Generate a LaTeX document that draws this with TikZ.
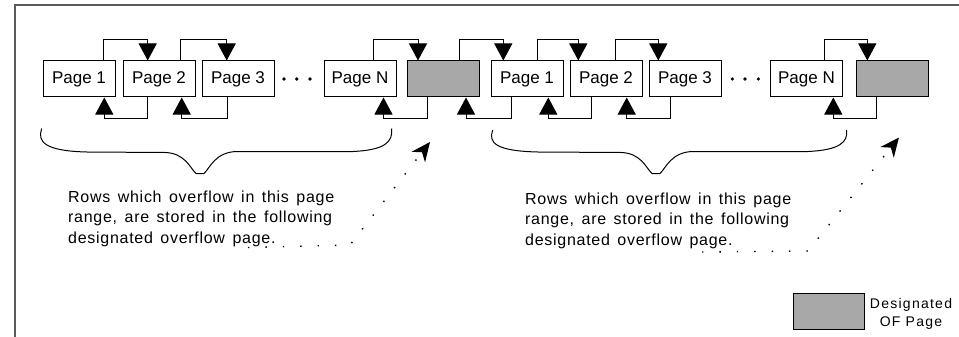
\documentclass[tikz,border=0pt]{standalone}
\usepackage{fontspec}
\setmainfont{Liberation Sans}
\usetikzlibrary{arrows.meta,calc}
\definecolor{ofgray}{RGB}{168,168,168}
\definecolor{framegray}{RGB}{90,90,90}
\newcommand\myNoteFont{\fontsize{16}{20.8}\selectfont\addfontfeature{LetterSpace=4.5}\spaceskip 7.5pt\relax}
\newcommand\myLegendFont{\fontsize{14}{18.4}\selectfont\addfontfeature{LetterSpace=9}}
\begin{document}
\begin{tikzpicture}[x=1pt,y=-1pt,
  pagebox/.style={draw=black,line width=1pt,minimum width=72pt,minimum height=36pt,inner sep=0pt,font=\fontsize{17}{20}\selectfont},
  ofbox/.style={pagebox,fill=ofgray},
  link/.style={draw=black,line width=1pt,-{Triangle[length=17pt,width=18pt]}},
  dotarrow/.style={line width=1.4pt,dash pattern=on 1.4pt off 16pt,-{Stealth[length=19pt,width=17pt,inset=6pt]}},
  note/.style={align=left,inner sep=0pt,anchor=north west,font=\myNoteFont},
  curly/.style={line width=1pt}
]
\useasboundingbox (0,0) rectangle (959,337);
\draw[framegray,line width=1.5pt] (15,337) -- (15,5) -- (959,5);

% first range
\node[pagebox] (p1) at (79,79) {Page 1};
\node[pagebox] (p2) at (159,79) {Page 2};
\node[pagebox] (p3) at (238,79) {Page 3};
\node[pagebox] (pn) at (360,79) {Page N};
\node[ofbox] (g1) at (443.5,79) {};
% second range
\node[pagebox] (q1) at (527,79) {Page 1};
\node[pagebox] (q2) at (606,79) {Page 2};
\node[pagebox] (q3) at (685,79) {Page 3};
\node[pagebox] (qn) at (806.5,79) {Page N};
\node[ofbox] (g2) at (892,79) {};

% ellipses
\foreach \x in {284,296.7,310,732.3,745,758.3} \fill (\x,79) circle (1.8pt);

% forward links (top)
\draw[link] ([xshift=24.3pt]p1.north) -- ++(0,-21) -| ([xshift=-11.3pt]p2.north);
\draw[link] ([xshift=21.7pt]p2.north) -- ++(0,-21) -| ([xshift=-11.3pt]p3.north);
\draw[link] ([xshift=13.3pt]pn.north) -- ++(0,-21) -| ([xshift=-25.5pt]g1.north);
\draw[link] ([xshift=15.5pt]g1.north) -- ++(0,-21) -| ([xshift=-23.7pt]q1.north);
\draw[link] ([xshift=10.7pt]q1.north) -- ++(0,-21) -| ([xshift=-27.7pt]q2.north);
\draw[link] ([xshift=9pt]q2.north) -- ++(0,-21) -| ([xshift=-26.7pt]q3.north);
\draw[link] ([xshift=17.5pt]qn.north) -- ++(0,-21) -| ([xshift=-24.7pt]g2.north);

% backward links (bottom)
\draw[link] ([xshift=-11.3pt]p2.south) -- ++(0,21) -| ([xshift=25.3pt]p1.south);
\draw[link] ([xshift=-10.3pt]p3.south) -- ++(0,21) -| ([xshift=22.7pt]p2.south);
\draw[link] ([xshift=-15.8pt]g1.south) -- ++(0,21) -| ([xshift=23.5pt]pn.south);
\draw[link] ([xshift=-15.3pt]q1.south) -- ++(0,21) -| ([xshift=22.5pt]g1.south);
\draw[link] ([xshift=-15pt]q2.south) -- ++(0,21) -| ([xshift=21.3pt]q1.south);
\draw[link] ([xshift=-15pt]q3.south) -- ++(0,21) -| ([xshift=20.7pt]q2.south);
\draw[link] ([xshift=-15.3pt]g2.south) -- ++(0,21) -| ([xshift=26.8pt]qn.south);

% braces
\draw[curly] (41.7,128.5) .. controls (37,142) and (45,151) .. (87,152) -- (165,152.5)
  .. controls (185,153) and (190,168) .. (196,173.5) -- (204,173.5)
  .. controls (210,168) and (215,152) .. (237,151.5) -- (353,151.5)
  .. controls (385,150) and (393,142) .. (391.7,128.5);
\draw[curly] (492.7,130) .. controls (488,143) and (496,151) .. (538,152) -- (621,152.5)
  .. controls (641,153) and (646,168) .. (652,173.5) -- (660,173.5)
  .. controls (666,168) and (671,152) .. (693,151.5) -- (808,151.5)
  .. controls (840,150) and (848,142) .. (846.7,130);

% notes
\node[note] (n1) at (68,190.3) {Rows which overflow in this page\\range, are stored in the following\\designated overflow page.};
\node[note] (n2) at (525,192.3) {Rows which overflow in this page\\range, are stored in the following\\designated overflow page.};

% dotted arrows to the overflow pages
\coordinate (d1a) at (248,247.5);
\coordinate (d1b) at (350,245);
\coordinate (d1c) at (430,142);
\draw[dotarrow] (d1a) -- (d1b) -- (d1c);
\coordinate (d2a) at (702,252);
\coordinate (d2b) at (808,251);
\coordinate (d2c) at (899,137.5);
\draw[dotarrow] (d2a) -- (d2b) -- (d2c);

% legend
\node[ofbox,minimum width=70.7pt] (lg) at (828.7,311.3) {};
\node[align=center,inner sep=0pt,anchor=north,font=\myLegendFont] (lt) at (911,298) {Designated\\OF Page};
\end{tikzpicture}
\end{document}
